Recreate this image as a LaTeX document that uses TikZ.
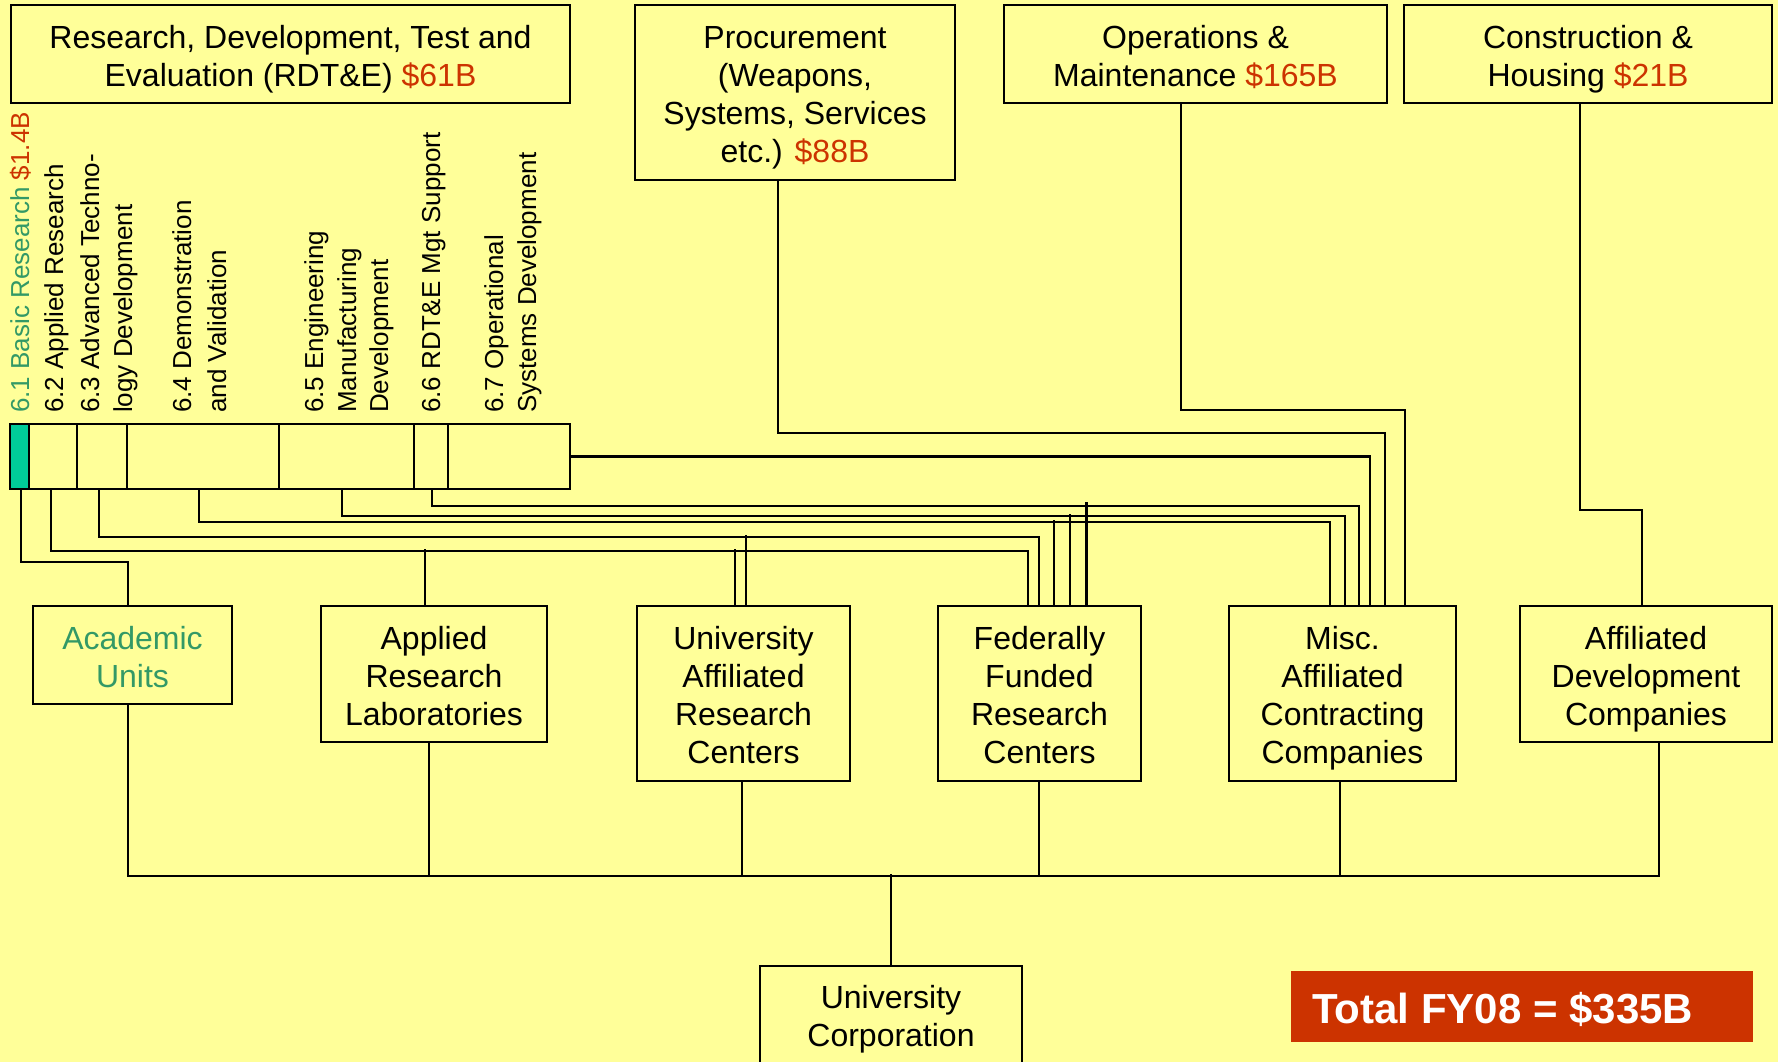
\documentclass[tikz,border=0pt]{standalone}
\usepackage{fontspec}
\setmainfont{Liberation Sans}
\definecolor{bgyellow}{HTML}{FFFF99}
\definecolor{costred}{HTML}{CC3300}
\definecolor{textgreen}{HTML}{339966}
\definecolor{cellgreen}{HTML}{00CC99}
% struts that fix the height of the first line and the depth of the last line of a box text
\newcommand{\firststrut}{\rule{0pt}{37.6pt}}
\newcommand{\laststrut}{\rule[-11.4pt]{0pt}{11.4pt}}
\begin{document}
\begin{tikzpicture}[x=1pt,y=-1pt,
  box/.style={draw=black, line width=2.4pt, fill=bgyellow, align=center, inner sep=0pt,
              font=\fontsize{32}{38}\selectfont},
  link/.style={draw=black, line width=2.1pt},
  vlabel/.style={rotate=90, anchor=base west, inner sep=0pt, font=\fontsize{26}{32}\selectfont},
  cell/.style={draw=black, line width=2.1pt, minimum height=65pt, inner sep=0pt, fill=bgyellow}
]
% page
\fill[bgyellow] (0,0) rectangle (1778,1062);
\useasboundingbox (0,0) rectangle (1778,1062);
\clip (0,0) rectangle (1778,1062);

% RDT&E budget bar, one cell per budget activity
\node[cell, minimum width=48pt] (c2) at (53,456.5) {};
\node[cell, minimum width=50pt] (c3) at (102,456.5) {};
\node[cell, minimum width=152pt] (c4) at (203,456.5) {};
\node[cell, minimum width=135pt] (c5) at (346.5,456.5) {};
\node[cell, minimum width=34pt] (c6) at (431,456.5) {};
\node[cell, minimum width=122pt] (c7) at (509,456.5) {};
\node[cell, minimum width=19pt, fill=cellgreen, line width=2.6pt] (c1) at (19.5,456.5) {};

% budget activity labels
\node[vlabel, text=textgreen] (l61) at (29,413) {6.1 Basic Research \textcolor{costred}{\$1.4B}};
\node[vlabel] (l62) at (63,413) {6.2 Applied Research};
\node[vlabel] (l63a) at (99,413) {6.3 Advanced Techno-};
\node[vlabel] (l63b) at (132,413) {logy Development};
\node[vlabel] (l64a) at (191,413) {6.4 Demonstration};
\node[vlabel] (l64b) at (226,413) {and Validation};
\node[vlabel] (l65a) at (323,413) {6.5 Engineering};
\node[vlabel] (l65b) at (356,413) {Manufacturing};
\node[vlabel] (l65c) at (388,413) {Development};
\node[vlabel] (l66) at (440,413) {6.6 RDT\&E Mgt Support};
\node[vlabel] (l67a) at (503,413) {6.7 Operational};
\node[vlabel] (l67b) at (536,413) {Systems Development};

% appropriations
\node[box, minimum width=559pt, minimum height=98pt] (rdte) at (290.5,54)
  {\firststrut Research, Development, Test and\\Evaluation (RDT\&E) \textcolor{costred}{\$61B}\laststrut};
\node[box, minimum width=320pt, minimum height=175pt] (proc) at (795,92.5)
  {\firststrut Procurement\\(Weapons,\\Systems, Services\\etc.) \textcolor{costred}{\$88B}\laststrut};
\node[box, minimum width=383pt, minimum height=98pt] (om) at (1195.5,54)
  {\firststrut Operations \&\\Maintenance \textcolor{costred}{\$165B}\laststrut};
\node[box, minimum width=368pt, minimum height=98pt] (ch) at (1588,54)
  {\firststrut Construction \&\\Housing \textcolor{costred}{\$21B}\laststrut};

% performing organisations
\node[box, minimum width=199pt, minimum height=98pt, text=textgreen] (acad) at (132.5,655)
  {\firststrut Academic\\Units\laststrut};
\node[box, minimum width=226pt, minimum height=136pt] (arl) at (434,674)
  {\firststrut Applied\\Research\\Laboratories\laststrut};
\node[box, minimum width=213pt, minimum height=175pt] (uarc) at (743.5,693.5)
  {\firststrut University\\Affiliated\\Research\\Centers\laststrut};
\node[box, minimum width=203pt, minimum height=175pt] (ffrc) at (1039.5,693.5)
  {\firststrut Federally\\Funded\\Research\\Centers\laststrut};
\node[box, minimum width=227pt, minimum height=175pt] (misc) at (1342.5,693.5)
  {\firststrut Misc.\\Affiliated\\Contracting\\Companies\laststrut};
\node[box, minimum width=252pt, minimum height=136pt] (adc) at (1646,674)
  {\firststrut Affiliated\\Development\\Companies\laststrut};
\node[box, minimum width=262pt, minimum height=97pt] (uc) at (891,1014.5)
  {\firststrut University\\Corporation\laststrut};

% total
\node[fill=costred, minimum width=462pt, minimum height=71pt, inner sep=0pt] (tot) at (1522,1006.5) {};
\node[anchor=base west, text=white, inner sep=0pt, font=\fontsize{42}{50}\selectfont\bfseries] (totlbl) at (1312,1023) {Total FY08 = \$335B};

% funding flows from the budget bar
\draw[link] ([xshift=1.5pt]c1.south) -- ++(0,72) -| ([xshift=-4.5pt]acad.north);
\draw[link] ([xshift=-2pt]c2.south) -- ++(0,61) -| ([xshift=-11.5pt]ffrc.north);
\draw[link] ([xshift=-9pt]arl.north) -- ++(0,-56);
\draw[link] ([xshift=-8.5pt]uarc.north) -- ++(0,-56);
\draw[link] ([xshift=-3pt]c3.south) -- ++(0,47) -| ([xshift=-0.5pt]ffrc.north);
\draw[link] ([xshift=2.5pt]uarc.north) -- ++(0,-70);
\draw[link] ([xshift=-4pt]c4.south) -- ++(0,32) -| ([xshift=-12.5pt]misc.north);
\draw[link] ([xshift=14.5pt]ffrc.north) -- ++(0,-85);
\draw[link] ([xshift=-4.5pt]c5.south) -- ++(0,26) -| ([xshift=2.5pt]misc.north);
\draw[link] ([xshift=30.5pt]ffrc.north) -- ++(0,-91);
\draw[link] ([xshift=1pt]c6.south) -- ++(0,16) -| ([xshift=16.5pt]misc.north);
\draw[link] ([xshift=47pt]ffrc.north) -- ++(0,-103);
\draw[link] (c7.east) -| ([xshift=27.5pt]misc.north);

% funding flows from the other appropriations
\draw[link] ([xshift=-17pt]proc.south) -- ++(0,252) -| ([xshift=42.5pt]misc.north);
\draw[link] ([xshift=-14.5pt]om.south) -- ++(0,306) -| ([xshift=62.5pt]misc.north);
\draw[link] ([xshift=-8pt]ch.south) -- ++(0,406) -| ([xshift=-4pt]adc.north);

% common bus to the university corporation
\draw[link] ([xshift=-4.5pt]acad.south) -- ++(0,171) -| ([xshift=13pt]adc.south);
\draw[link] ([xshift=-5pt]arl.south) -- ++(0,133);
\draw[link] ([xshift=-1.5pt]uarc.south) -- ++(0,94);
\draw[link] ([xshift=-0.5pt]ffrc.south) -- ++(0,94);
\draw[link] ([xshift=-2.5pt]misc.south) -- ++(0,94);
\draw[link] (uc.north) -- ++(0,-91);
\end{tikzpicture}
\end{document}
